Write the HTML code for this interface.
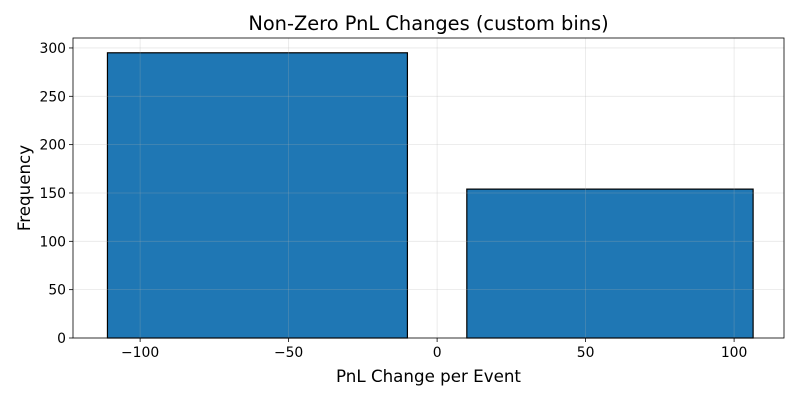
<!DOCTYPE html>
<html><head><meta charset="utf-8"><style>
body{margin:0;background:#fff;font-family:"Liberation Sans","DejaVu Sans",sans-serif;}
svg text{font-family:"DejaVu Sans","Liberation Sans",sans-serif;}
</style></head><body>
<svg id="c" width="800" height="400"></svg>
<script>
const binEdgesLeft=[-111,10];
const binEdgesRight=[-10,106.4];
const counts=[295,154];
const xTicks=[-100,-50,0,50,100];
const yTicks=[0,50,100,150,200,250,300];
const NS="http://www.w3.org/2000/svg";
const svg=document.getElementById('c');
const L=73,R=784,T=38,B=338,xmin=-122.6,xmax=116.8,ymin=0,ymax=310.3;
const xs=v=>L+(v-xmin)/(xmax-xmin)*(R-L);
const ys=v=>B-(v-ymin)/(ymax-ymin)*(B-T);
function el(t,a,txt){const e=document.createElementNS(NS,t);for(const k in a)e.setAttribute(k,a[k]);if(txt!==undefined)e.textContent=txt;svg.appendChild(e);return e;}
for(let i=0;i<counts.length;i++){
 const r=el('rect',{x:xs(binEdgesLeft[i]),y:ys(counts[i]),width:xs(binEdgesRight[i])-xs(binEdgesLeft[i]),height:ys(0)-ys(counts[i]),fill:'#1f77b4',stroke:'#000','stroke-width':1.2});
 
 
}
xTicks.forEach(v=>{const x=xs(v);
 const g=el('line',{x1:x,x2:x,y1:T,y2:B,stroke:'#b0b0b0','stroke-opacity':0.3,'stroke-width':0.8});
 
 el('line',{x1:x,x2:x,y1:B,y2:B+4,stroke:'#000','stroke-width':0.8});
 const t=el('text',{x:x,y:B+19,'text-anchor':'middle','font-size':13.9},v===0?'0':String(v).replace('-','\u2212'));
 
});
yTicks.forEach(v=>{const y=ys(v);
 const g=el('line',{x1:L,x2:R,y1:y,y2:y,stroke:'#b0b0b0','stroke-opacity':0.3,'stroke-width':0.8});
 
 el('line',{x1:L-4,x2:L,y1:y,y2:y,stroke:'#000','stroke-width':0.8});
 const t=el('text',{x:L-7,y:y+5,'text-anchor':'end','font-size':13.9},String(v));
 
});
const f=el('rect',{x:L,y:T,width:R-L,height:B-T,fill:'none',stroke:'#000','stroke-width':0.8});

const ti=el('text',{x:(L+R)/2,y:30,'text-anchor':'middle','font-size':19.4},'Non-Zero PnL Changes (custom bins)');

const xl=el('text',{x:(L+R)/2,y:382,'text-anchor':'middle','font-size':16.7},'PnL Change per Event');

const yl=el('text',{x:30,y:(T+B)/2,'text-anchor':'middle','font-size':16.7,transform:`rotate(-90 30 ${(T+B)/2})`},'Frequency');

</script>
</body></html>
